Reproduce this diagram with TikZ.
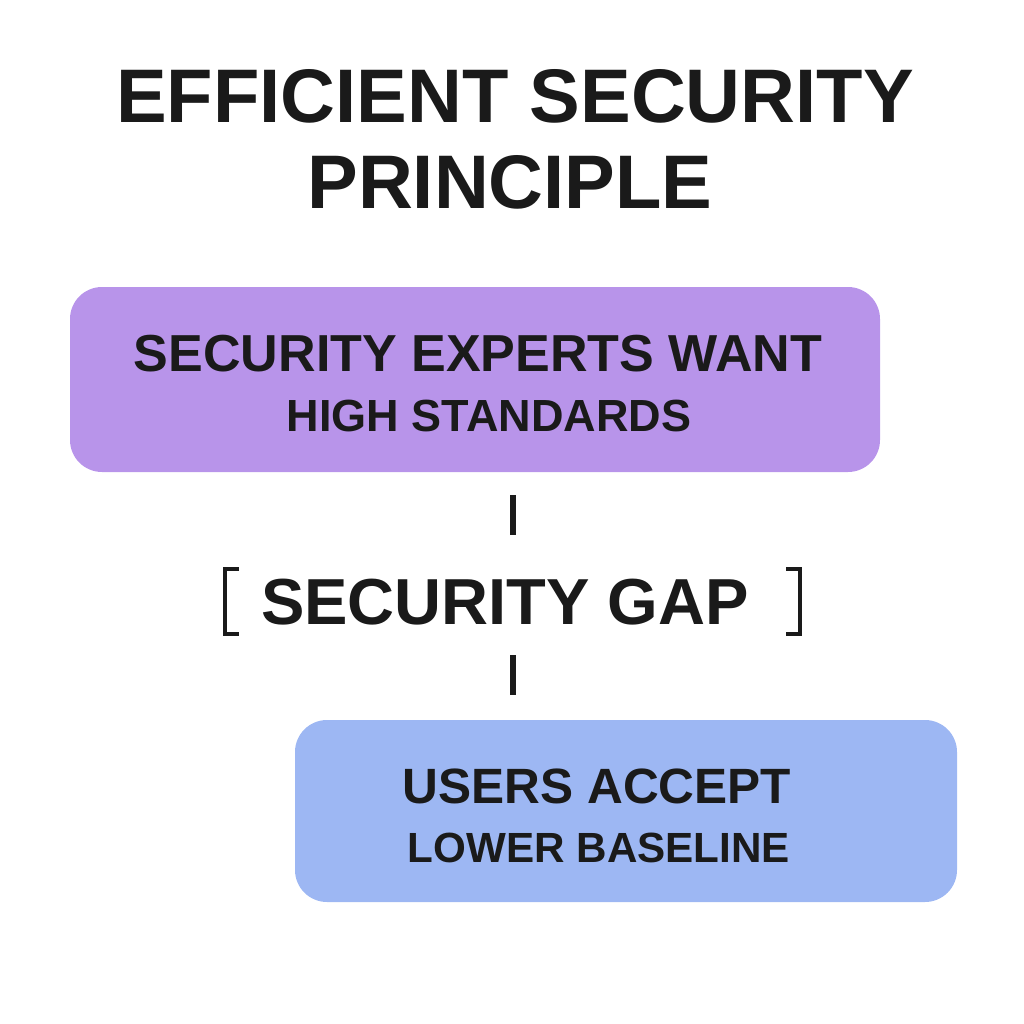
\documentclass[tikz,border=0pt]{standalone}
\usepackage{fontspec}
\setmainfont{Liberation Sans}
\definecolor{purp}{HTML}{B894EA}
\definecolor{blu}{HTML}{9DB7F3}
\definecolor{ink}{HTML}{1A1A1A}
\begin{document}
\begin{tikzpicture}[x=0.01cm,y=-0.01cm,
  txt/.style={text=ink,font=\bfseries,inner sep=0pt,anchor=base},
  link/.style={draw=ink,line width=1.5pt}]
\useasboundingbox (0,0) rectangle (1024,1024);
\node[txt,font=\fontsize{21.6}{24}\selectfont\bfseries] (t1) at (515,122) {EFFICIENT SECURITY};
\node[txt,font=\fontsize{21.6}{24}\selectfont\bfseries] (t2) at (510,208) {PRINCIPLE};
\fill[purp,rounded corners=0.32cm] (70,287) rectangle (880,472);
\node[txt,font=\fontsize{14.8}{17}\selectfont\bfseries] (a1) at (478,371) {SECURITY EXPERTS WANT};
\node[txt,font=\fontsize{12.8}{14}\selectfont\bfseries] (a2) at (489,431) {HIGH STANDARDS};
\fill[blu,rounded corners=0.32cm] (295,720) rectangle (957,902);
\node[txt,font=\fontsize{14.1}{16}\selectfont\bfseries] (b1) at (597,803) {USERS ACCEPT};
\node[txt,font=\fontsize{12}{14}\selectfont\bfseries] (b2) at (599,862) {LOWER BASELINE};
\node[txt,font=\fontsize{18.5}{20}\selectfont\bfseries] (gap) at (505,624) {SECURITY GAP};
\coordinate (l1a) at (513,495); \coordinate (l1b) at (513,535);
\coordinate (l2a) at (513,655); \coordinate (l2b) at (513,695);
\draw[link] (l1a) -- (l1b);
\draw[link] (l2a) -- (l2b);
\draw[draw=ink,line width=1.3pt] (239,569) -- (225,569) -- (225,634) -- (239,634);
\draw[draw=ink,line width=1.3pt] (786,569) -- (800,569) -- (800,634) -- (786,634);
\end{tikzpicture}
\end{document}
